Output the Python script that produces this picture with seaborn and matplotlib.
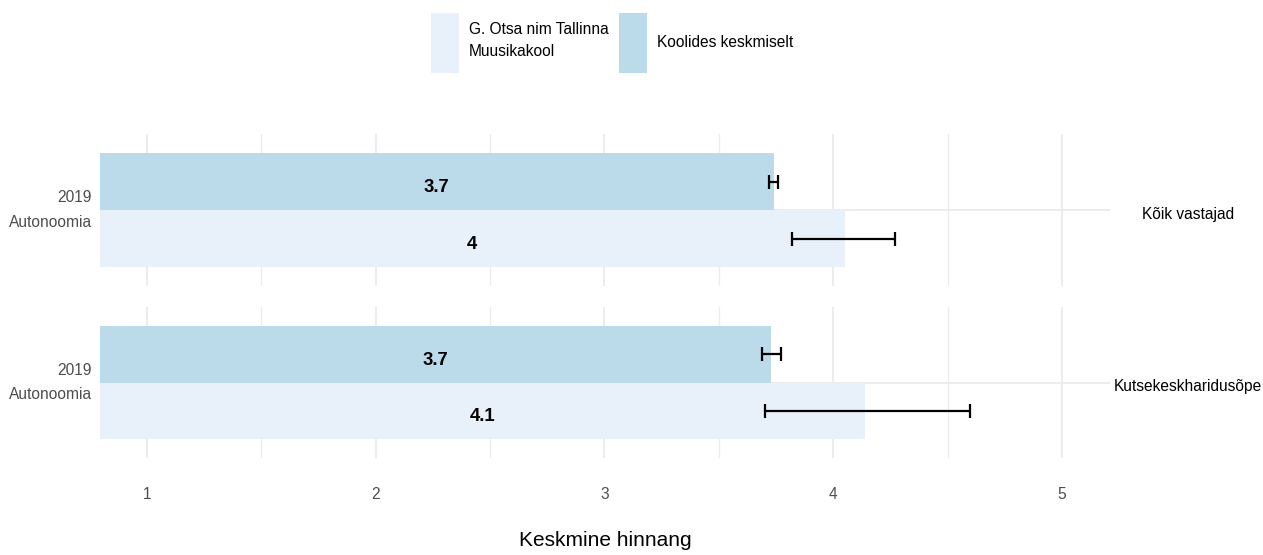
import matplotlib
matplotlib.use("Agg")
import matplotlib.pyplot as plt
from matplotlib import font_manager
from matplotlib.patches import Patch
from matplotlib.ticker import MultipleLocator
from matplotlib.transforms import ScaledTranslation
import seaborn as sns
import pandas as pd

# ---------------- data ----------------
groups = ["Kõik vastajad", "Kutsekeskharidusõpe"]
category = "2019\nAutonoomia"
series = ["G. Otsa nim Tallinna\nMuusikakool", "Koolides keskmiselt"]
school_mean = [4.05, 4.14]
school_lo = [3.82, 3.70]
school_hi = [4.27, 4.60]
avg_mean = [3.74, 3.73]
avg_lo = [3.72, 3.69]
avg_hi = [3.76, 3.77]
x_ticks = [1, 2, 3, 4, 5]
x_label = "Keskmine hinnang"
colors = {series[0]: "#E8F0F9", series[1]: "#BCDBEA"}

# ---------------- style ----------------
sns.set_theme(style="white")
names = {f.name for f in font_manager.fontManager.ttflist}
if "Liberation Sans Narrow" in names:
    fam, k = "Liberation Sans Narrow", 1.0
else:
    fam, k = "Liberation Sans", 0.86
plt.rcParams["font.family"] = [fam, "DejaVu Sans"]
plt.rcParams["text.color"] = "black"

fs_tick = 13 * k
fs_val = 15.5 * k
fs_xlab = 17.5 * k
fs_leg = 13 * k
fs_strip = 13 * k

W, H = 1263, 555
fig = plt.figure(figsize=(W / 100, H / 100), dpi=100)
xmin, xmax = 0.795, 5.21
grid_c = "#EBEBEB"
text_c = "#4D4D4D"
panels = [(134, 286), (307, 458)]
strip_y = [215, 386]
down4 = ScaledTranslation(0, -4 / 100, fig.dpi_scale_trans)

for i, g in enumerate(groups):
    top, bot = panels[i]
    ax = fig.add_axes([100 / W, 1 - bot / H, 1010 / W, (bot - top) / H])
    df = pd.DataFrame({
        "cat": [category, category],
        "series": [series[1], series[0]],
        "value": [avg_mean[i], school_mean[i]],
        "lo": [avg_lo[i], school_lo[i]],
        "hi": [avg_hi[i], school_hi[i]],
    })
    sns.barplot(data=df, y="cat", x="value", hue="series",
                hue_order=[series[1], series[0]], palette=colors,
                width=0.9, errorbar=None, ax=ax, legend=False,
                orient="h", saturation=1, linewidth=0, zorder=2)
    ax.set_xlim(xmin, xmax)
    ax.set_ylim(0.6, -0.6)
    ax.xaxis.set_major_locator(MultipleLocator(1))
    ax.xaxis.set_minor_locator(MultipleLocator(0.5))
    ax.grid(True, which="major", axis="both", color=grid_c, lw=1.3, zorder=0)
    ax.grid(True, which="minor", axis="x", color=grid_c, lw=0.9, zorder=0)
    ax.set_axisbelow(True)
    for s in ax.spines.values():
        s.set_visible(False)
    ax.set_ylabel("")
    ax.set_xlabel("")
    ax.tick_params(axis="y", length=0, pad=6, labelsize=fs_tick, labelcolor=text_c)
    ax.tick_params(axis="x", which="both", length=0)
    for lab in ax.get_yticklabels():
        lab.set_horizontalalignment("right")
        lab.set_verticalalignment("center")
        lab.set_multialignment("right")
        lab.set_linespacing(1.8)
    rows = df.set_index("series")
    for patch, name in zip(ax.patches, [series[1], series[0]]):
        yc = patch.get_y() + patch.get_height() / 2
        v = patch.get_width()
        r = rows.loc[name]
        ax.errorbar(x=[v], y=[yc], xerr=[[v - r["lo"]], [r["hi"] - v]],
                    fmt="none", ecolor="black", elinewidth=1.6,
                    capsize=5, capthick=1.6, zorder=4)
        ax.text((xmin + v) / 2, yc, f"{round(v, 1):g}", ha="center",
                va="center_baseline", fontsize=fs_val, fontweight="bold",
                color="black", zorder=5, transform=ax.transData + down4)
    ax.text(1188 / W, 1 - strip_y[i] / H, g, transform=fig.transFigure,
            ha="center", va="center", fontsize=fs_strip, color="black")
    if i == len(groups) - 1:
        ax.set_xticks(x_ticks)
        ax.tick_params(axis="x", pad=21, labelsize=fs_tick, labelcolor=text_c)
        ax.set_xlabel(x_label, fontsize=fs_xlab, color="black", labelpad=21)
    else:
        ax.tick_params(axis="x", labelbottom=False)

handles = [Patch(facecolor=colors[s], edgecolor="none") for s in series]
fs_px = fs_leg * 100 / 72
hh = (60 / fs_px - 0.245) / 0.65
leg = fig.legend(handles, series, loc="upper center", bbox_to_anchor=(612 / W, 1 + 1 / H),
                 ncol=2, frameon=False, fontsize=fs_leg, handlelength=28 / fs_px,
                 handleheight=hh, handletextpad=0.6, columnspacing=0.7)
for t in leg.get_texts():
    t.set_color("black")
    t.set_linespacing(1.65)

fig.savefig("out.png", dpi=100, facecolor="white")
